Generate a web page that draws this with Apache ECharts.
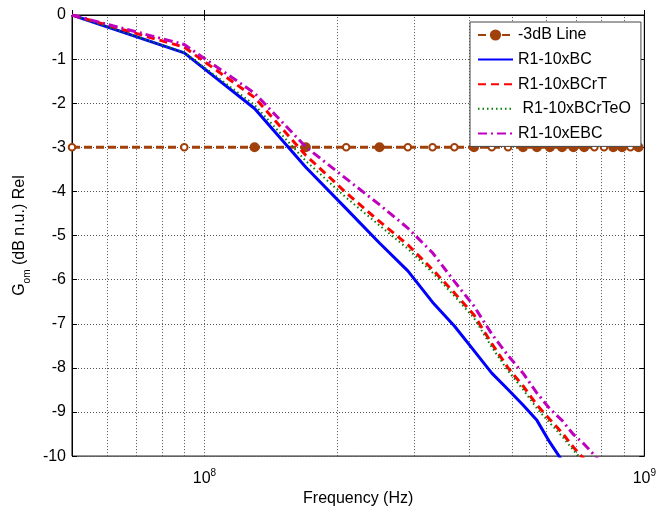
<!DOCTYPE html>
<html><head><meta charset="utf-8">
<script src="https://cdn.jsdelivr.net/npm/echarts@6/dist/echarts.min.js"></script>
<style>html,body{margin:0;padding:0;background:#fff}#c{width:659px;height:512px}</style>
</head><body><div id="c"></div>
<script>
// Frequencies (Hz) of the measured points
const freqHz = [50e6, 90e6, 130e6, 170e6, 210e6, 250e6, 290e6, 330e6, 370e6, 410e6, 450e6, 490e6,
                530e6, 570e6, 610e6, 650e6, 690e6, 730e6, 770e6, 810e6, 850e6, 890e6, 930e6, 970e6];
// -3 dB reference line
const line3dB = [-3, -3, -3, -3, -3, -3, -3, -3, -3, -3, -3, -3, -3, -3, -3, -3, -3, -3, -3, -3, -3, -3, -3, -3];
// Curves (dB n.u.)
const r1BC     = [0, -0.86, -2.12, -3.45, -4.39, -5.17, -5.80, -6.51, -7.05, -7.61, -8.12, -8.49, -8.84, -9.19, -9.69, -10.10];
const r1BCrT   = [0, -0.73, -1.87, -3.18, -4.03, -4.68, -5.21, -5.77, -6.30, -6.80, -7.45, -8.00, -8.41, -8.84, -9.17, -9.47, -9.80, -10.07];
const r1BCrTeO = [0, -0.85, -2.04, -3.31, -4.14, -4.77, -5.30, -5.84, -6.37, -6.87, -7.53, -8.07, -8.49, -8.92, -9.25, -9.55, -9.87, -10.13];
const r1EBC    = [0, -0.67, -1.77, -2.99, -3.71, -4.30, -4.83, -5.39, -6.04, -6.60, -7.23, -7.72, -8.12, -8.57, -8.93, -9.19, -9.51, -9.73, -9.98, -10.22];
// Minor/major vertical grid positions (Hz)
const gridFreqs = [6e7, 7e7, 8e7, 9e7, 1e8, 2e8, 3e8, 4e8, 5e8, 6e8, 7e8, 8e8, 9e8];
const yTicks = [0, -1, -2, -3, -4, -5, -6, -7, -8, -9, -10];
const names = ['-3dB Line', 'R1-10xBC', 'R1-10xBCrT', ' R1-10xBCrTeO', 'R1-10xEBC'];

const FONT = 'Liberation Sans, Arial, Helvetica, sans-serif';
const hollowIdx = [0, 1, 4, 6, 7, 8, 10, 11, 18, 19, 22];
const pair = arr => arr.map((v, i) => [freqHz[i], v]);
const BROWN = '#A0400A';

const chart = echarts.init(document.getElementById('c'), null, {renderer: 'canvas'});
const gridLine = {color: '#555', width: 1, type: [1, 2]};
const noSym = {color: 'transparent', borderWidth: 0, opacity: 0};

chart.setOption({
  animation: false,
  backgroundColor: '#fff',
  grid: {left: 72, right: 10, top: 15, bottom: 50, show: true, borderColor: '#000', borderWidth: 1, backgroundColor: 'transparent'},
  legend: {
    orient: 'vertical', left: 470, top: 22,
    backgroundColor: '#fff', borderColor: '#444', borderWidth: 1,
    padding: [5, 10, 5, 7], itemWidth: 35, itemHeight: 14, itemGap: 8.6,
    textStyle: {fontSize: 16, color: '#000', fontFamily: FONT},
    data: [
      {name: names[0]},
      {name: names[1], itemStyle: noSym},
      {name: names[2], itemStyle: noSym},
      {name: names[3], itemStyle: noSym},
      {name: names[4], itemStyle: noSym}
    ]
  },
  xAxis: [{
    type: 'log', logBase: 10, min: 5e7, max: 1e9,
    name: 'Frequency (Hz)', nameLocation: 'middle', nameGap: 30,
    nameTextStyle: {fontSize: 16, color: '#000', fontFamily: FONT},
    axisLine: {lineStyle: {color: '#000', width: 1}},
    axisTick: {inside: true, length: 5, lineStyle: {color: '#000'}},
    splitLine: {show: false},
    axisLabel: {
      margin: 12, color: '#000', fontFamily: FONT,
      formatter: v => {
        const e = Math.log10(v);
        if (Math.abs(e - Math.round(e)) > 1e-6) return '';
        return '{b|10}{s|' + Math.round(e) + '}';
      },
      rich: {
        b: {fontSize: 16, lineHeight: 18, fontFamily: FONT, color: '#000', verticalAlign: 'bottom'},
        s: {fontSize: 10, lineHeight: 10, fontFamily: FONT, color: '#000', verticalAlign: 'top'}
      }
    }
  }, {
    type: 'log', logBase: 10, min: 5e7, max: 1e9, position: 'top',
    axisLine: {lineStyle: {color: '#000', width: 1}},
    axisTick: {inside: true, length: 5, lineStyle: {color: '#000'}},
    axisLabel: {show: false}, splitLine: {show: false}
  }],
  yAxis: [{
    type: 'value', min: yTicks[yTicks.length - 1], max: yTicks[0], interval: 1,
    name: '{g|G}{s|om}{g| (dB n.u.) Rel}', nameLocation: 'middle', nameGap: 38,
    nameTextStyle: {
      color: '#000',
      rich: {
        g: {fontSize: 16, lineHeight: 20, fontFamily: FONT, color: '#000', verticalAlign: 'top'},
        s: {fontSize: 10, lineHeight: 10, fontFamily: FONT, color: '#000', verticalAlign: 'bottom'}
      }
    },
    axisLine: {show: true, lineStyle: {color: '#000', width: 1}},
    axisTick: {show: true, inside: true, length: 5, lineStyle: {color: '#000'}},
    axisLabel: {fontSize: 16, color: '#000', fontFamily: FONT, margin: 6},
    splitLine: {show: true, lineStyle: gridLine}
  }, {
    type: 'value', min: yTicks[yTicks.length - 1], max: yTicks[0], interval: 1, position: 'right',
    axisLine: {show: true, lineStyle: {color: '#000', width: 1}},
    axisTick: {show: true, inside: true, length: 5, lineStyle: {color: '#000'}},
    axisLabel: {show: false}, splitLine: {show: false}
  }],
  series: [{
    type: 'line', name: '_grid', data: [], silent: true, z: 1,
    markLine: {
      silent: true, z: 1, symbol: ['none', 'none'], animation: false,
      label: {show: false}, lineStyle: gridLine,
      data: gridFreqs.map(v => ({xAxis: v}))
    }
  }, {
    type: 'line', name: names[0], z: 3,
    data: pair(line3dB).map((p, i) => hollowIdx.includes(i)
      ? {value: p, symbol: 'emptyCircle', symbolSize: 6.5, itemStyle: {borderWidth: 3, borderColor: BROWN}}
      : {value: p}),
    symbol: 'circle', symbolSize: 10, showSymbol: true,
    lineStyle: {color: BROWN, width: 3, type: [8, 4]},
    itemStyle: {color: BROWN, borderColor: BROWN, borderWidth: 0}
  }, {
    type: 'line', name: names[1], z: 4, data: pair(r1BC), symbol: 'none', showSymbol: false,
    lineStyle: {color: '#0000FF', width: 3, type: 'solid'}, itemStyle: {color: '#0000FF'}
  }, {
    type: 'line', name: names[2], z: 5, data: pair(r1BCrT), symbol: 'none', showSymbol: false,
    lineStyle: {color: '#FF0000', width: 3, type: [8, 5]}, itemStyle: {color: '#FF0000'}
  }, {
    type: 'line', name: names[3], z: 6, data: pair(r1BCrTeO), symbol: 'none', showSymbol: false,
    lineStyle: {color: '#008000', width: 2, type: [1.5, 3]}, itemStyle: {color: '#008000'}
  }, {
    type: 'line', name: names[4], z: 7, data: pair(r1EBC), symbol: 'none', showSymbol: false,
    lineStyle: {color: '#BF00BF', width: 3, type: [9, 4, 2, 4]}, itemStyle: {color: '#BF00BF'}
  }]
});
</script>
</body></html>
